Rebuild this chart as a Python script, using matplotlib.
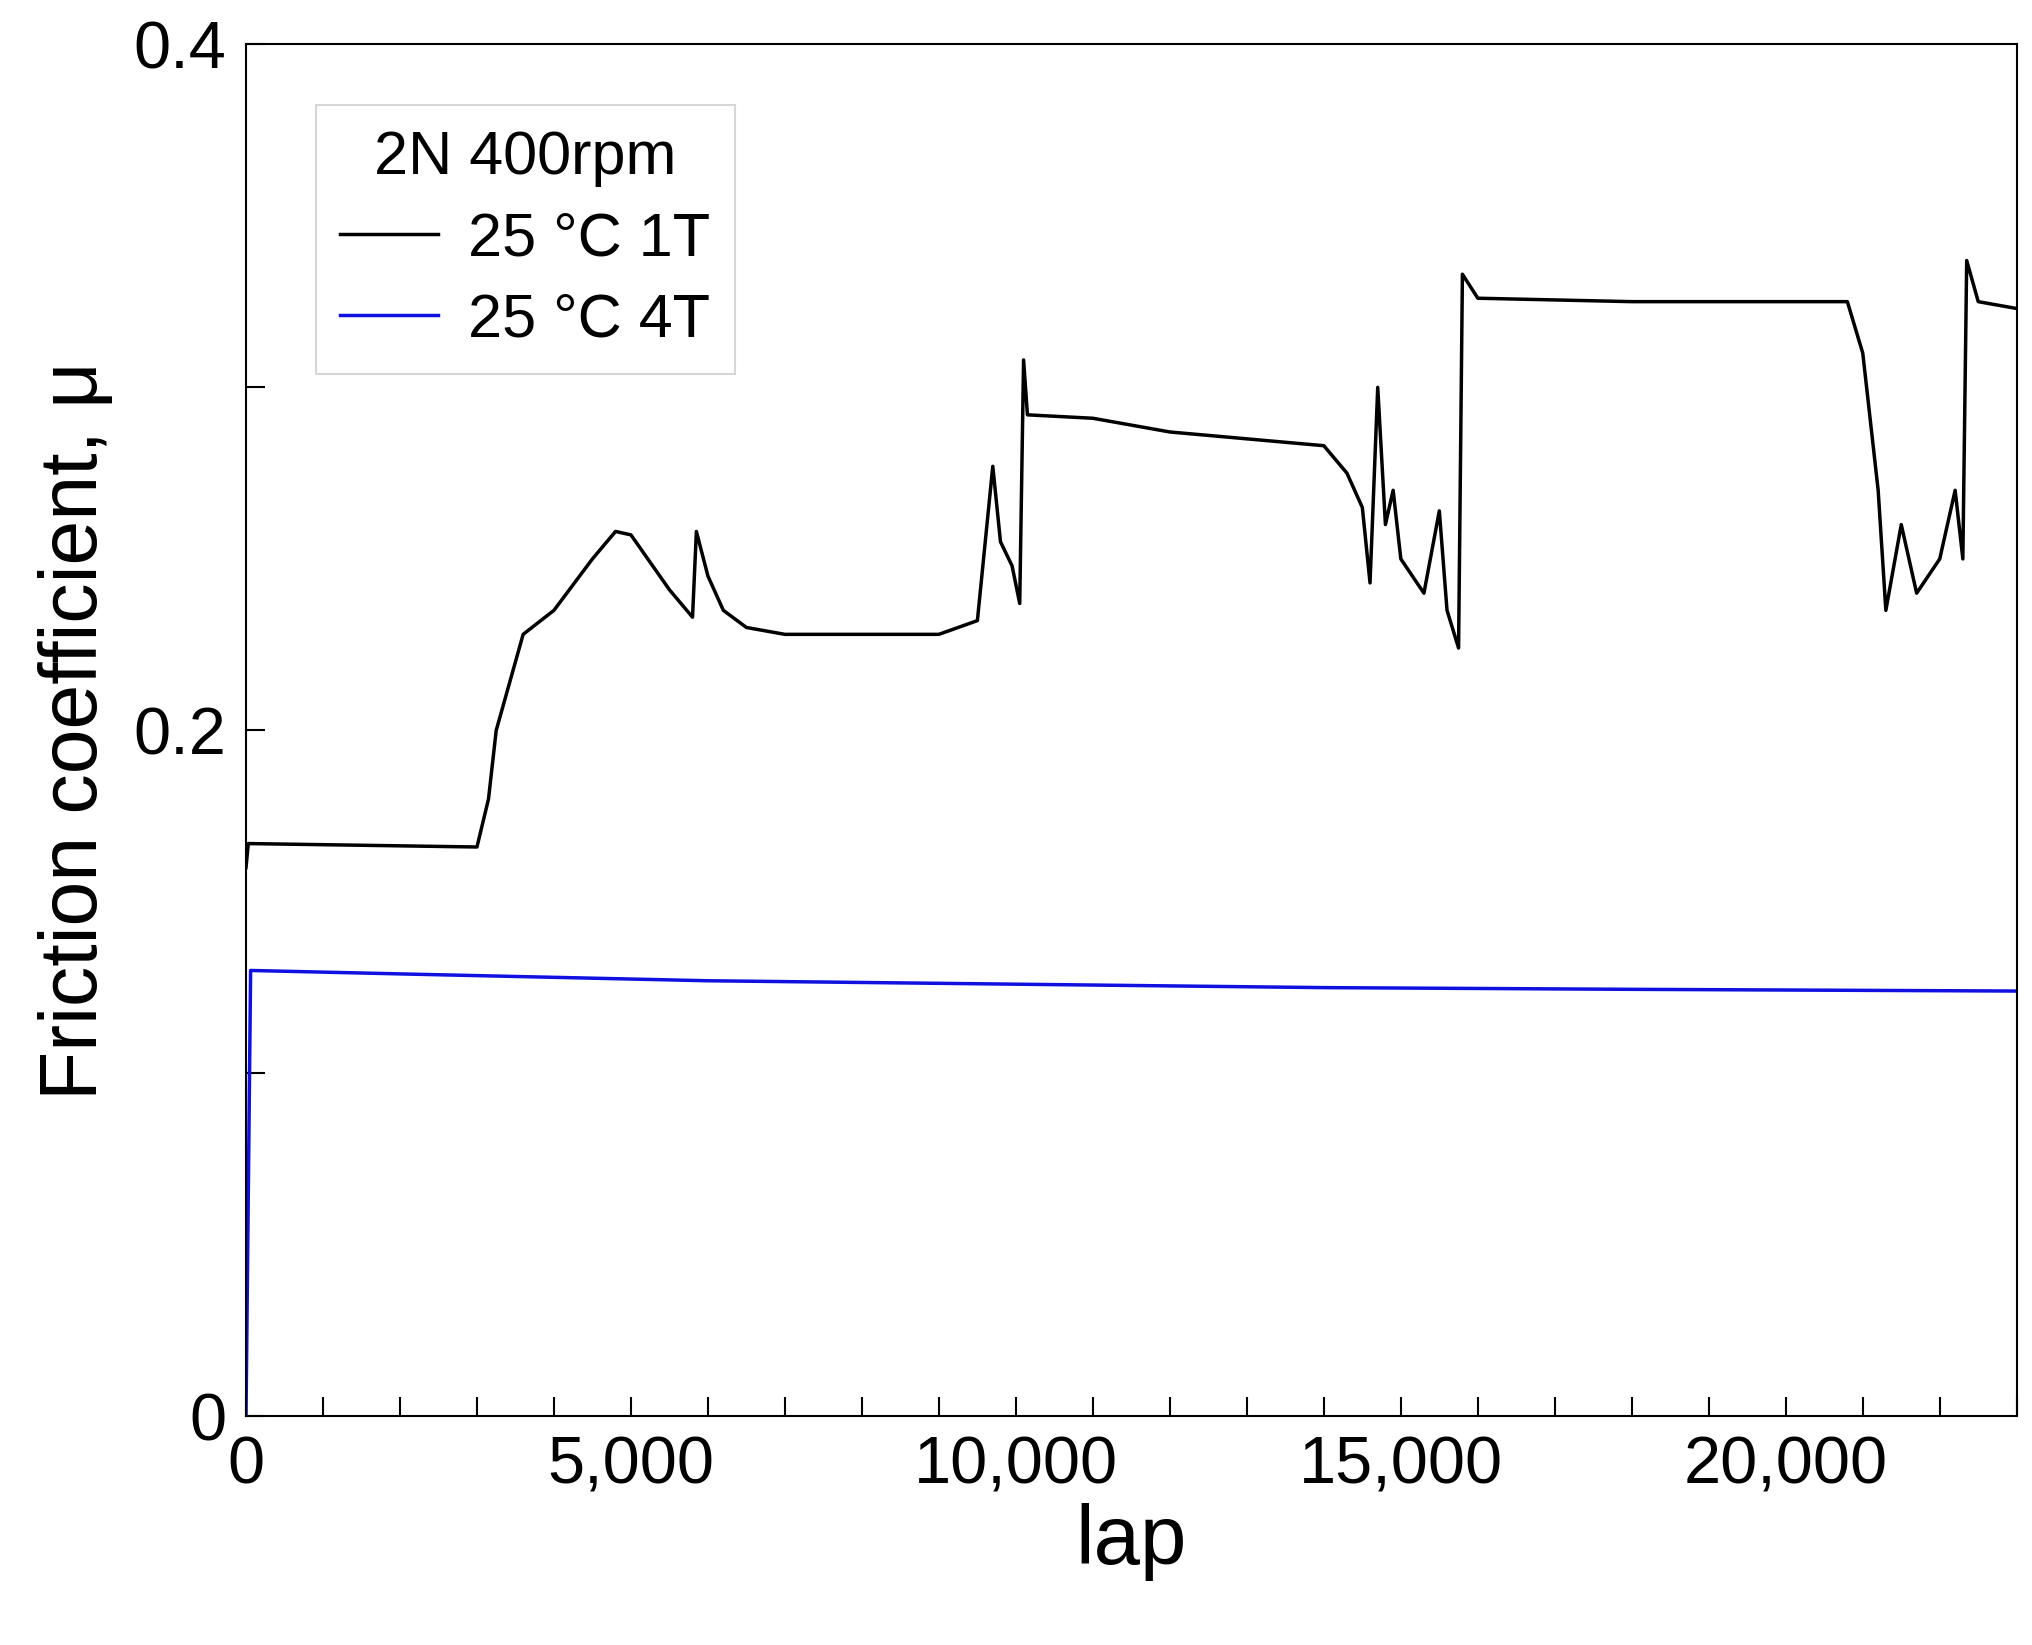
import matplotlib
matplotlib.use("Agg")
import matplotlib.pyplot as plt
from matplotlib.ticker import MultipleLocator, FuncFormatter

plt.rcParams['font.family'] = ['Liberation Sans', 'DejaVu Sans']

lap_1t = [0, 30, 3000, 3150, 3250, 3400, 3600, 4000, 4500, 4800, 5000, 5500, 5800, 5850, 6000, 6200, 6500,
          7000, 9000, 9500, 9700, 9800, 9950, 10050, 10100, 10150, 11000, 12000, 13000, 14000, 14300, 14500,
          14600, 14700, 14800, 14900, 15000, 15300, 15500, 15600, 15750, 15800, 16000, 18000, 20800, 21000,
          21200, 21300, 21500, 21700, 22000, 22200, 22300, 22350, 22500, 23000]
mu_1t = [0.160, 0.167, 0.166, 0.180, 0.200, 0.212, 0.228, 0.235, 0.250, 0.258, 0.257, 0.241, 0.233, 0.258,
         0.245, 0.235, 0.230, 0.228, 0.228, 0.232, 0.277, 0.255, 0.248, 0.237, 0.308, 0.292, 0.291, 0.287,
         0.285, 0.283, 0.275, 0.265, 0.243, 0.300, 0.260, 0.270, 0.250, 0.240, 0.264, 0.235, 0.224, 0.333,
         0.326, 0.325, 0.325, 0.310, 0.270, 0.235, 0.260, 0.240, 0.250, 0.270, 0.250, 0.337, 0.325, 0.323]

lap_4t = [0, 60, 2000, 6000, 10000, 14000, 18000, 23000]
mu_4t = [0.0, 0.130, 0.129, 0.127, 0.126, 0.125, 0.1245, 0.124]

fig = plt.figure(figsize=(20.33, 16.45), dpi=100)
ax = fig.add_axes([0.121, 0.139, 0.871, 0.834])
ax.plot(lap_1t, mu_1t, color='black', lw=2.5, label='25 °C 1T')
ax.plot(lap_4t, mu_4t, color='#1010e0', lw=2.5, label='25 °C 4T')
ax.set_xlim(0, 23000)
ax.set_ylim(0, 0.4)
ax.xaxis.set_major_locator(MultipleLocator(5000))
ax.xaxis.set_minor_locator(MultipleLocator(1000))
ax.yaxis.set_major_locator(MultipleLocator(0.2))
ax.yaxis.set_minor_locator(MultipleLocator(0.1))
ax.xaxis.set_major_formatter(FuncFormatter(lambda v, p: f"{int(v):,}"))
ax.yaxis.set_major_formatter(FuncFormatter(lambda v, p: "0" if v == 0 else f"{v:.1f}"))
ax.tick_params(which='both', direction='in', labelsize=48, width=1.5, pad=14)
ax.tick_params(which='major', length=14)
ax.tick_params(which='minor', length=14)
for s in ax.spines.values():
    s.set_linewidth(1.5)
ax.set_xlabel('lap', fontsize=60, labelpad=4)
ax.set_ylabel('Friction coefficient, μ', fontsize=58, labelpad=14)
leg = ax.legend(title='2N 400rpm', loc='upper left', bbox_to_anchor=(0.022, 0.978),
                fontsize=44, title_fontsize=44, fancybox=False, edgecolor='#cccccc',
                handlelength=1.6, handletextpad=0.5, borderpad=0.4, labelspacing=0.4)
leg.get_frame().set_linewidth(1.5)
fig.savefig('out.png', dpi=100)
